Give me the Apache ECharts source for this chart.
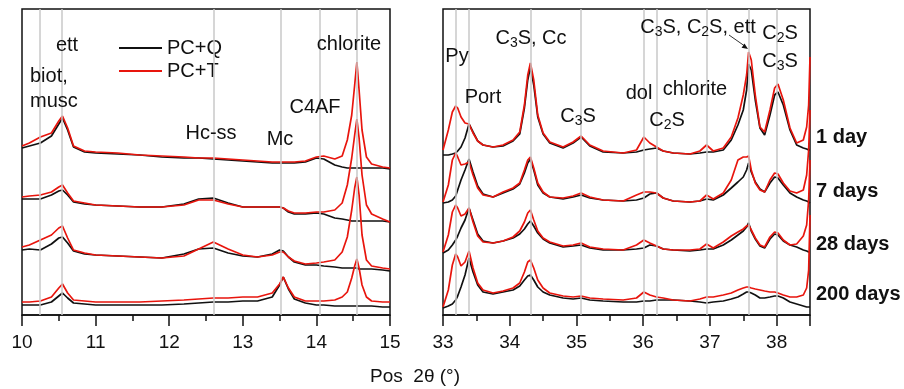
<!DOCTYPE html>
<html>
<head>
<meta charset="utf-8">
<script src="https://cdn.jsdelivr.net/npm/echarts@6/dist/echarts.min.js"></script>
<style>html,body{margin:0;padding:0;background:#fff}#c{width:904px;height:389px}</style>
</head>
<body>
<div id="c"></div>
<script>
// ---- data (intensity in arbitrary stacked units) ----
const leftPos = [10,10.1,10.25,10.4,10.5,10.55,10.62,10.7,10.85,11.0,11.3,11.6,11.9,12.2,12.4,12.6,12.8,13.0,13.2,13.4,13.5,13.55,13.62,13.7,13.85,14.0,14.1,14.25,14.35,14.42,14.48,14.52,14.55,14.58,14.62,14.68,14.75,14.9,15];
const rightPos = [33.0,33.08,33.14,33.19,33.22,33.27,33.33,33.39,33.45,33.52,33.6,33.75,33.9,34.05,34.15,34.22,34.27,34.31,34.36,34.42,34.5,34.6,34.8,34.95,35.07,35.2,35.4,35.7,35.9,36.01,36.1,36.2,36.3,36.45,36.7,36.85,36.95,37.05,37.2,37.32,37.42,37.5,37.55,37.58,37.62,37.68,37.75,37.82,37.9,37.97,38.02,38.1,38.2,38.3,38.4,38.45,38.48,38.5];

const left1dQ = [167,169,172,179,191,197,185,168,163,162,161,160,158,157,157,156,155,154,153,152,152,152,152,152,153,157,156,150,148,147,147,147,147,147,147,147,147,147,146];
const left1dT = [169,172,178,182,194,199,187,169,164,163,162,160,159,158,157,157,156,155,154,153,153,153,153,153,154,158,159,156,159,175,200,230,253,225,185,158,151,148,147];
const left7dQ = [116,116,116,120,124,125,120,113,111,110,109,108,108,111,116,117,112,108,108,108,108,107,103,101,101,102,101,97,96,95,94,94,94,94,94,94,94,94,93];
const left7dT = [118,119,120,123,128,130,122,114,112,110,109,108,108,110,115,115,111,108,108,108,108,107,104,102,102,103,103,105,112,130,157,180,196,177,140,110,101,96,93];
const left28dQ = [65,66,65,71,77,78,72,64,61,60,59,58,57,61,66,67,62,59,58,61,65,64,58,53,50,50,49,48,47,47,47,47,47,46,46,46,46,45,44];
const left28dT = [68,70,75,80,87,89,77,65,62,60,59,58,57,59,66,73,66,60,58,60,63,63,58,54,51,52,53,55,63,78,105,127,138,120,80,55,49,47,46];
const left200dQ = [10,10,10,13,19,22,17,12,11,10,10,10,10,11,12,13,13,14,14,18,30,38,26,16,12,10,10,9,9,9,9,9,9,9,9,9,9,8,8];
const left200dT = [13,13,14,18,27,31,22,15,14,13,13,13,14,15,16,17,17,18,18,22,31,38,27,18,14,14,14,15,18,23,37,49,56,47,30,18,14,13,13];

const right1dQ = [160,160,161,162,164,168,177,191,183,174,170,168,169,174,181,207,235,248,230,198,181,172,167,172,178,169,163,162,163,165,166,167,164,162,161,162,163,163,165,175,190,205,225,251,245,215,187,180,200,220,223,210,185,170,167,166,165,165];
const right1dT = [165,185,203,209,207,198,192,191,182,174,170,168,170,175,183,210,240,252,235,200,182,173,168,173,179,170,164,162,165,178,172,168,164,162,161,164,170,164,167,178,197,220,240,263,255,220,188,183,205,227,231,215,187,172,175,188,210,258];
const right7dQ = [112,113,115,119,125,135,145,156,143,129,121,118,122,126,131,142,152,156,145,130,122,118,116,118,120,117,115,114,115,117,121,122,117,114,113,114,116,115,120,127,133,138,145,152,143,133,126,123,132,138,137,130,122,118,115,114,113,112];
const right7dT = [113,130,155,162,158,150,151,153,140,127,120,118,123,127,132,145,155,158,147,132,123,118,117,119,122,118,115,114,120,123,123,122,117,114,113,114,120,116,122,135,155,158,158,159,145,132,125,123,135,142,141,132,124,122,125,140,165,205];
const right28dQ = [62,65,70,75,79,87,95,107,95,81,74,72,74,77,81,86,91,94,89,82,76,72,68,69,70,67,65,65,66,67,70,69,66,65,64,65,66,66,70,75,80,84,88,92,84,76,69,67,76,81,80,74,70,68,65,64,63,63];
const right28dT = [63,80,103,110,107,99,101,107,93,79,73,72,74,78,84,93,102,105,95,84,77,73,69,70,72,68,66,65,70,75,72,69,66,65,65,66,71,67,73,79,83,86,89,90,85,77,70,68,78,83,82,75,70,71,79,90,115,155];
const right200dQ = [7,9,11,15,19,28,40,57,43,30,23,21,23,25,29,35,39,40,35,28,23,20,17,16,17,15,14,13,13,14,14,15,15,15,14,13,12,13,14,16,18,21,23,23,22,20,17,17,18,19,19,17,13,11,9,8,8,8];
const right200dT = [8,25,50,61,58,49,53,64,47,32,25,22,24,27,32,43,53,55,47,35,27,22,19,18,19,17,16,15,17,23,20,18,17,15,14,16,18,18,20,22,25,27,28,28,27,26,25,24,23,23,22,20,18,18,20,27,45,100];

const leftRefLines = [10.245, 10.54, 12.595, 13.505, 14.035, 14.55];
const rightRefLines = [33.19, 33.39, 34.31, 35.07, 36.01, 36.21, 36.95, 37.58, 38.0];
const ages = ['1 day', '7 days', '28 days', '200 days'];
const seriesNames = ['PC+Q', 'PC+T'];

// ---- chart ----
const BLACK = '#111111', RED = '#e8150d', GREY = '#c9c9c9';
const FONT = 'Arial, "Liberation Sans", sans-serif';
const FS = 20;
const chart = echarts.init(document.getElementById('c'), null, {renderer: 'canvas'});

function pairs(xs, ys) { return xs.map((x, i) => [x, ys[i]]); }

const leftSets = [[left1dQ, left1dT], [left7dQ, left7dT], [left28dQ, left28dT], [left200dQ, left200dT]];
const rightSets = [[right1dQ, right1dT], [right7dQ, right7dT], [right28dQ, right28dT], [right200dQ, right200dT]];

const series = [];
function refSeries(idx, lines) {
  return {
    type: 'line', xAxisIndex: idx, yAxisIndex: idx, data: [], silent: true, z: 1,
    markLine: {
      silent: true, symbol: ['none', 'none'], animation: false,
      label: {show: false},
      lineStyle: {color: GREY, width: 1.5, type: 'solid'},
      data: lines.map(v => ({xAxis: v}))
    }
  };
}
series.push(refSeries(0, leftRefLines));
series.push(refSeries(1, rightRefLines));
function addCurves(idx, xs, sets) {
  [0, 1].forEach(k => {
    sets.forEach(s => {
      series.push({
        type: 'line', name: seriesNames[k], xAxisIndex: idx, yAxisIndex: idx,
        data: pairs(xs, s[k]), showSymbol: false, symbol: 'none', z: 2 + k,
        lineStyle: {color: k ? RED : BLACK, width: 1.7}, itemStyle: {color: k ? RED : BLACK},
        animation: false
      });
    });
  });
}
addCurves(0, leftPos, leftSets);
addCurves(1, rightPos, rightSets);

function xAxisCfg(idx, min, max) {
  return {
    type: 'value', gridIndex: idx, min: min, max: max, interval: 1,
    axisLine: {show: true, onZero: false, lineStyle: {color: '#111', width: 1.5}},
    axisTick: {show: true, length: 11, lineStyle: {color: '#111', width: 1.5}},
    minorTick: {show: true, splitNumber: 2, length: 6, lineStyle: {color: '#111', width: 1.5}},
    splitLine: {show: false},
    axisLabel: {color: '#111', fontSize: 19, fontFamily: FONT, margin: 18, showMaxLabel: idx === 0}
  };
}
function yAxisCfg(idx) {
  return {type: 'value', gridIndex: idx, min: 0, max: 306, show: false};
}

const sub = {fontSize: 14, lineHeight: 14, verticalAlign: 'bottom', fontFamily: FONT, fill: '#111'};
function txt(x, y, text, opts) {
  opts = opts || {};
  return {
    type: 'text', x: x, y: y, z: 50, silent: true,
    style: Object.assign({
      text: text, fontSize: FS, fontFamily: FONT, fill: '#111',
      align: 'center', verticalAlign: 'middle',
      rich: {n: {fontSize: FS, lineHeight: 24, fontFamily: FONT, fill: '#111'}, s: sub}
    }, opts)
  };
}

const graphics = [
  txt(67, 45, 'ett'),
  txt(30, 76, 'biot,', {align: 'left'}),
  txt(30, 101, 'musc', {align: 'left'}),
  txt(211, 133, 'Hc-ss'),
  txt(280, 139, 'Mc'),
  txt(315, 107, 'C4AF'),
  txt(349, 44, 'chlorite'),
  txt(457, 56, 'Py'),
  txt(483, 97, 'Port'),
  txt(531, 38, '{n|C}{s|3}{n|S, Cc}'),
  txt(578, 116, '{n|C}{s|3}{n|S}'),
  txt(639, 93, 'dol'),
  txt(695, 89, 'chlorite'),
  txt(667, 120, '{n|C}{s|2}{n|S}'),
  txt(698, 27, '{n|C}{s|3}{n|S, C}{s|2}{n|S, ett}'),
  txt(780, 33, '{n|C}{s|2}{n|S}'),
  txt(780, 61, '{n|C}{s|3}{n|S}'),
  {type: 'line', silent: true, z: 50, shape: {x1: 729, y1: 35, x2: 744, y2: 45.5}, style: {stroke: '#333', lineWidth: 1}},
  {type: 'polygon', silent: true, z: 50, shape: {points: [[748, 49], [741.6, 47.7], [744.5, 43.6]]}, style: {fill: '#111'}},
  txt(415, 377, 'Pos  2θ (°)', {fontSize: 19})
];
const agePos = [137, 191, 244, 294];
ages.forEach((a, i) => graphics.push(txt(816, agePos[i], a, {align: 'left', fontWeight: 'bold'})));

chart.setOption({
  animation: false,
  backgroundColor: '#fff',
  grid: [
    {left: 22, top: 9, width: 368, height: 306, show: true, borderColor: '#111', borderWidth: 1.5, backgroundColor: 'transparent'},
    {left: 443, top: 9, width: 367, height: 306, show: true, borderColor: '#111', borderWidth: 1.5, backgroundColor: 'transparent'}
  ],
  xAxis: [xAxisCfg(0, 10, 15), xAxisCfg(1, 33, 38.5)],
  yAxis: [yAxisCfg(0), yAxisCfg(1)],
  legend: {
    data: seriesNames, orient: 'vertical', left: 114, top: 32, itemWidth: 43, itemHeight: 2,
    icon: 'rect', itemGap: 1, selectedMode: false,
    textStyle: {fontSize: FS, fontFamily: FONT, color: '#111', lineHeight: 22}
  },
  series: series,
  graphic: graphics
});
</script>
</body>
</html>
